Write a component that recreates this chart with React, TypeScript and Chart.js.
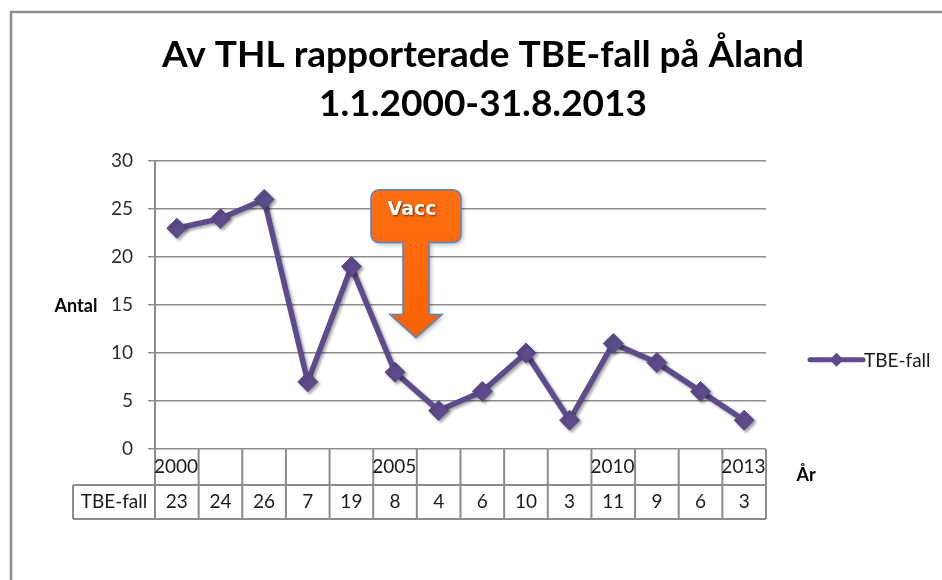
import React, { useEffect, useRef } from 'react';
import { Chart, registerables } from 'chart.js';

Chart.register(...registerables);

// ---- data ----
const years = ['2000', '2001', '2002', '2003', '2004', '2005', '2006', '2007', '2008', '2009', '2010', '2011', '2012', '2013'];
const yearLabels = ['2000', '', '', '', '', '2005', '', '', '', '', '2010', '', '', '2013'];
const seriesName = 'TBE-fall';
const cases = [23, 24, 26, 7, 19, 8, 4, 6, 10, 3, 11, 9, 6, 3];
const yMin = 0;
const yMax = 30;
const yStep = 5;
const titleLines = ['Av THL rapporterade TBE-fall på Åland', '1.1.2000-31.8.2013'];
const yAxisTitle = 'Antal';
const xAxisTitle = 'År';
const calloutText = 'Vacc';
// callout anchor, in data units (category index / value)
const calloutX = 5.48;
const calloutBoxTop = 27;
const calloutBoxBottom = 21.5;
const calloutHeadStart = 14;
const calloutTip = 11.6;

const LINE = '#5E4B8C';
const GRID = '#8c8c8c';
const FONT = "Lato, 'Open Sans', sans-serif";

const decorPlugin = {
  id: 'decor',
  beforeDraw(chart: any) {
    const ctx = chart.ctx as CanvasRenderingContext2D;
    ctx.save();
    ctx.fillStyle = '#ffffff';
    ctx.fillRect(0, 0, chart.width, chart.height);
    ctx.strokeStyle = '#8f8f8f';
    ctx.lineWidth = 2.5;
    ctx.beginPath();
    ctx.moveTo(11, chart.height + 2);
    ctx.lineTo(11, 12);
    ctx.lineTo(chart.width + 2, 12);
    ctx.stroke();

    // title
    ctx.fillStyle = '#000000';
    ctx.font = `bold 37px ${FONT}`;
    ctx.textAlign = 'center';
    ctx.textBaseline = 'middle';
    const tx = 483;
    ctx.fillText(titleLines[0], tx, 55);
    ctx.fillText(titleLines[1], tx, 104);
    ctx.restore();
  },
  beforeDatasetsDraw(chart: any) {
    const ctx = chart.ctx as CanvasRenderingContext2D;
    ctx.save();
    ctx.shadowColor = 'rgba(0,0,0,0.35)';
    ctx.shadowBlur = 3;
    ctx.shadowOffsetX = 2;
    ctx.shadowOffsetY = 2;
  },
  afterDatasetsDraw(chart: any) {
    chart.ctx.restore();
  },
  afterDraw(chart: any) {
    const ctx = chart.ctx as CanvasRenderingContext2D;
    const area = chart.chartArea;
    const xs = chart.scales.x;
    const ys = chart.scales.y;
    const n = years.length;
    const band = (area.right - area.left) / n;
    const row1Top = area.bottom;
    const row1Bottom = area.bottom + 36;
    const row2Bottom = area.bottom + 70;
    const tableLeft = area.left - 82;

    ctx.save();
    // ---- data table ----
    ctx.strokeStyle = GRID;
    ctx.lineWidth = 2;
    ctx.beginPath();
    ctx.moveTo(tableLeft, row1Bottom);
    ctx.lineTo(area.right, row1Bottom);
    ctx.moveTo(tableLeft, row2Bottom);
    ctx.lineTo(area.right, row2Bottom);
    ctx.moveTo(tableLeft, row1Bottom);
    ctx.lineTo(tableLeft, row2Bottom);
    for (let i = 0; i <= n; i++) {
      const x = area.left + i * band;
      ctx.moveTo(x, row1Top);
      ctx.lineTo(x, row2Bottom);
    }
    ctx.stroke();

    ctx.fillStyle = '#1a1a1a';
    ctx.font = `19px ${FONT}`;
    ctx.textBaseline = 'middle';
    ctx.textAlign = 'left';
    for (let i = 0; i < n; i++) {
      if (yearLabels[i]) ctx.fillText(yearLabels[i], area.left + i * band - 1, (row1Top + row1Bottom) / 2);
    }
    ctx.textAlign = 'center';
    ctx.fillText(seriesName, (tableLeft + area.left) / 2, (row1Bottom + row2Bottom) / 2);
    for (let i = 0; i < n; i++) {
      ctx.fillText(String(cases[i]), xs.getPixelForValue(i), (row1Bottom + row2Bottom) / 2);
    }

    // ---- axis titles ----
    ctx.fillStyle = '#000000';
    ctx.font = `bold 18px ${FONT}`;
    ctx.textAlign = 'center';
    ctx.fillText(yAxisTitle, area.left - 79, ys.getPixelForValue(15) + 1);
    ctx.fillText(xAxisTitle, area.right + 40, (row1Top + row1Bottom) / 2 + 8);

    // ---- legend ----
    const ly = ys.getPixelForValue(9.3);
    const lx0 = area.right + 44;
    const lx1 = area.right + 97;
    ctx.strokeStyle = LINE;
    ctx.lineWidth = 5;
    ctx.lineCap = 'round';
    ctx.beginPath();
    ctx.moveTo(lx0, ly);
    ctx.lineTo(lx1, ly);
    ctx.stroke();
    ctx.fillStyle = LINE;
    const lc = (lx0 + lx1) / 2;
    ctx.beginPath();
    ctx.moveTo(lc, ly - 7);
    ctx.lineTo(lc + 7, ly);
    ctx.lineTo(lc, ly + 7);
    ctx.lineTo(lc - 7, ly);
    ctx.closePath();
    ctx.fill();
    ctx.fillStyle = '#1a1a1a';
    ctx.font = `19px ${FONT}`;
    ctx.textAlign = 'left';
    ctx.fillText(seriesName, lx1 + 1, ly + 1);

    // ---- Vacc callout ----
    const cx = xs.getPixelForValue(calloutX);
    const bTop = ys.getPixelForValue(calloutBoxTop);
    const bBot = ys.getPixelForValue(calloutBoxBottom);
    const hY = ys.getPixelForValue(calloutHeadStart);
    const tY = ys.getPixelForValue(calloutTip);
    const bw = 45;
    const sw = 13;
    const hw = 26;
    const r = 8;
    const grad = ctx.createLinearGradient(0, bTop, 0, tY);
    grad.addColorStop(0, '#FF6E12');
    grad.addColorStop(1, '#F86206');
    ctx.save();
    ctx.shadowColor = 'rgba(0,0,0,0.3)';
    ctx.shadowBlur = 4;
    ctx.shadowOffsetX = 2;
    ctx.shadowOffsetY = 2;
    ctx.beginPath();
    ctx.moveTo(cx - bw + r, bTop);
    ctx.lineTo(cx + bw - r, bTop);
    ctx.arcTo(cx + bw, bTop, cx + bw, bTop + r, r);
    ctx.lineTo(cx + bw, bBot - r);
    ctx.arcTo(cx + bw, bBot, cx + bw - r, bBot, r);
    ctx.lineTo(cx + sw, bBot);
    ctx.lineTo(cx + sw, hY);
    ctx.lineTo(cx + hw, hY);
    ctx.lineTo(cx, tY);
    ctx.lineTo(cx - hw, hY);
    ctx.lineTo(cx - sw, hY);
    ctx.lineTo(cx - sw, bBot);
    ctx.lineTo(cx - bw + r, bBot);
    ctx.arcTo(cx - bw, bBot, cx - bw, bBot - r, r);
    ctx.lineTo(cx - bw, bTop + r);
    ctx.arcTo(cx - bw, bTop, cx - bw + r, bTop, r);
    ctx.closePath();
    ctx.fillStyle = grad;
    ctx.fill();
    ctx.restore();
    ctx.strokeStyle = '#5A84BE';
    ctx.lineWidth = 1.5;
    ctx.lineCap = 'butt';
    ctx.stroke();

    ctx.save();
    ctx.shadowColor = 'rgba(0,0,0,0.6)';
    ctx.shadowBlur = 2;
    ctx.shadowOffsetX = 1;
    ctx.shadowOffsetY = 1;
    ctx.fillStyle = '#ffffff';
    ctx.font = `bold 19px 'DejaVu Sans', sans-serif`;
    ctx.textAlign = 'center';
    ctx.textBaseline = 'middle';
    ctx.fillText(calloutText, cx - 4, bTop + 20);
    ctx.restore();

    ctx.restore();
  },
};

export default function App() {
  const ref = useRef<HTMLCanvasElement | null>(null);

  useEffect(() => {
    document.body.style.margin = '0';
    if (!ref.current) return;
    const chart = new Chart(ref.current, {
      type: 'line',
      data: {
        labels: years,
        datasets: [
          {
            label: seriesName,
            data: cases,
            borderColor: LINE,
            backgroundColor: LINE,
            borderWidth: 5.5,
            borderJoinStyle: 'round',
            borderCapStyle: 'round',
            pointStyle: 'rectRot',
            pointRadius: 10,
            pointBackgroundColor: LINE,
            pointBorderColor: LINE,
            pointBorderWidth: 1,
            tension: 0,
          },
        ],
      },
      options: {
        responsive: false,
        animation: false,
        layout: { padding: { top: 161, left: 95, right: 176, bottom: 131 } },
        plugins: {
          legend: { display: false },
          tooltip: { enabled: false },
          title: { display: false },
        },
        scales: {
          x: {
            type: 'category',
            display: false,
            offset: true,
          },
          y: {
            min: yMin,
            max: yMax,
            afterFit: (scale: any) => {
              scale.width = 60;
            },
            ticks: {
              stepSize: yStep,
              color: '#2e2e2e',
              font: { family: FONT, size: 19 },
              padding: 15,
            },
            grid: {
              color: GRID,
              lineWidth: 1.5,
              tickLength: 7,
              drawTicks: true,
            },
            border: { display: true, color: GRID, width: 2 },
          },
        },
      },
      plugins: [decorPlugin],
    });
    return () => chart.destroy();
  }, []);

  return (
    <div style={{ width: 942, height: 580, position: 'relative' }}>
      <canvas ref={ref} width={942} height={580} style={{ display: 'block' }} />
    </div>
  );
}
